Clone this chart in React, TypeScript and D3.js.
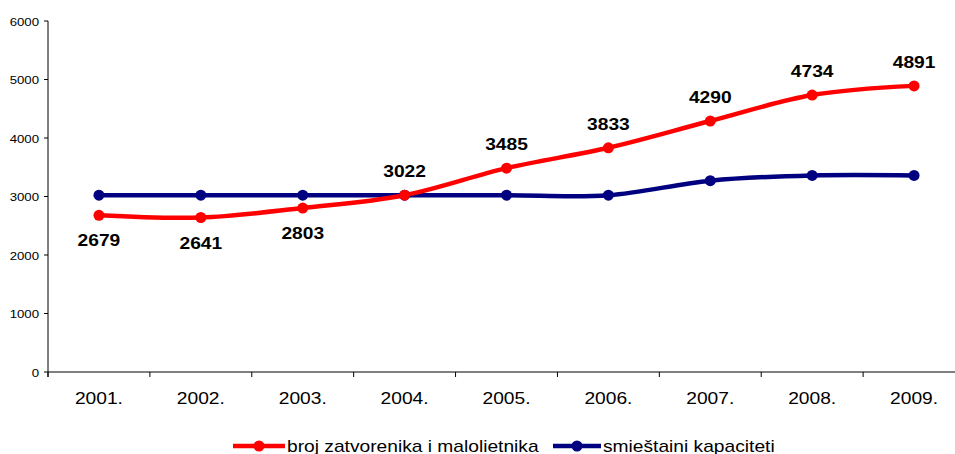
import * as d3 from "d3";
import React from "react";

const years = ["2001.", "2002.", "2003.", "2004.", "2005.", "2006.", "2007.", "2008.", "2009."];
const prisoners = [2679, 2641, 2803, 3022, 3485, 3833, 4290, 4734, 4891];
const capacity = [3022, 3022, 3022, 3022, 3022, 3022, 3270, 3360, 3360];
const yTicks = [0, 1000, 2000, 3000, 4000, 5000, 6000];
const labelBelow = [true, true, true, false, false, false, false, false, false];
const seriesNames = ["broj zatvorenika i malolietnika", "smieštaini kapaciteti"];

const RED = "#ff0000";
const BLUE = "#000080";
const FONT = "'Liberation Sans', Arial, sans-serif";
const SX = 1.2; // the original picture is stretched sideways

// text drawn with the horizontal stretch
function T(props: { x: number; y: number; size: number; anchor?: string; bold?: boolean; children: any }) {
  return (
    <text
      transform={`translate(${props.x},${props.y}) scale(${SX},1)`}
      textAnchor={props.anchor || "start"}
      fontSize={props.size}
      fontWeight={props.bold ? "bold" : "normal"}
    >
      {props.children}
    </text>
  );
}

export default function App() {
  const width = 955, height = 454;
  const x0 = 48, plotRight = 965;

  const x = d3.scaleBand().domain(years).range([x0, plotRight]);
  const y = d3.scaleLinear().domain([0, 6000]).range([372, 21]);
  const cx = (i: number) => x(years[i])! + x.bandwidth() / 2;

  const line = d3
    .line<number>()
    .x((d, i) => cx(i))
    .y((d) => y(d))
    .curve(d3.curveCardinal.tension(0));

  const bounds = years.map((yr) => x(yr)!).concat([plotRight]);

  return (
    <svg
      width={width}
      height={height}
      style={{ position: "absolute", left: 0, top: 0, background: "#fff" }}
      fontFamily={FONT}
    >
      {/* y axis */}
      <line x1={x0} x2={x0} y1={y(6000)} y2={y(0) + 5} stroke="#000" strokeWidth={1} />
      {yTicks.map((t) => (
        <g key={t}>
          <line x1={x0 - 4} x2={x0} y1={y(t)} y2={y(t)} stroke="#000" />
          <T x={39} y={y(t) + 4.5} size={11} anchor="end">
            {t}
          </T>
        </g>
      ))}

      {/* x axis */}
      <line x1={x0} x2={plotRight} y1={y(0)} y2={y(0)} stroke="#000" />
      {bounds.map((b, i) => (
        <line key={i} x1={b} x2={b} y1={y(0)} y2={y(0) + 5} stroke="#000" />
      ))}
      {years.map((yr, i) => (
        <T key={yr} x={cx(i)} y={404} size={16} anchor="middle">
          {yr}
        </T>
      ))}

      {/* series */}
      <path d={line(capacity)!} fill="none" stroke={BLUE} strokeWidth={4.5} />
      <path d={line(prisoners)!} fill="none" stroke={RED} strokeWidth={4.5} />
      {capacity.map((v, i) => (
        <circle key={"c" + i} cx={cx(i)} cy={y(v)} r={5.5} fill={BLUE} />
      ))}
      {prisoners.map((v, i) => (
        <circle key={"p" + i} cx={cx(i)} cy={y(v)} r={5.5} fill={RED} />
      ))}
      {prisoners.map((v, i) => (
        <T key={"l" + i} x={cx(i)} y={labelBelow[i] ? y(v) + 31 : y(v) - 18} size={16} anchor="middle" bold>
          {v}
        </T>
      ))}

      {/* legend */}
      <line x1={233} x2={285} y1={446} y2={446} stroke={RED} strokeWidth={4.5} />
      <circle cx={259} cy={446} r={5.5} fill={RED} />
      <T x={287} y={452} size={16}>{seriesNames[0]}</T>
      <line x1={553} x2={601} y1={446} y2={446} stroke={BLUE} strokeWidth={4.5} />
      <circle cx={577} cy={446} r={5.5} fill={BLUE} />
      <T x={603} y={452} size={16}>{seriesNames[1]}</T>
    </svg>
  );
}
